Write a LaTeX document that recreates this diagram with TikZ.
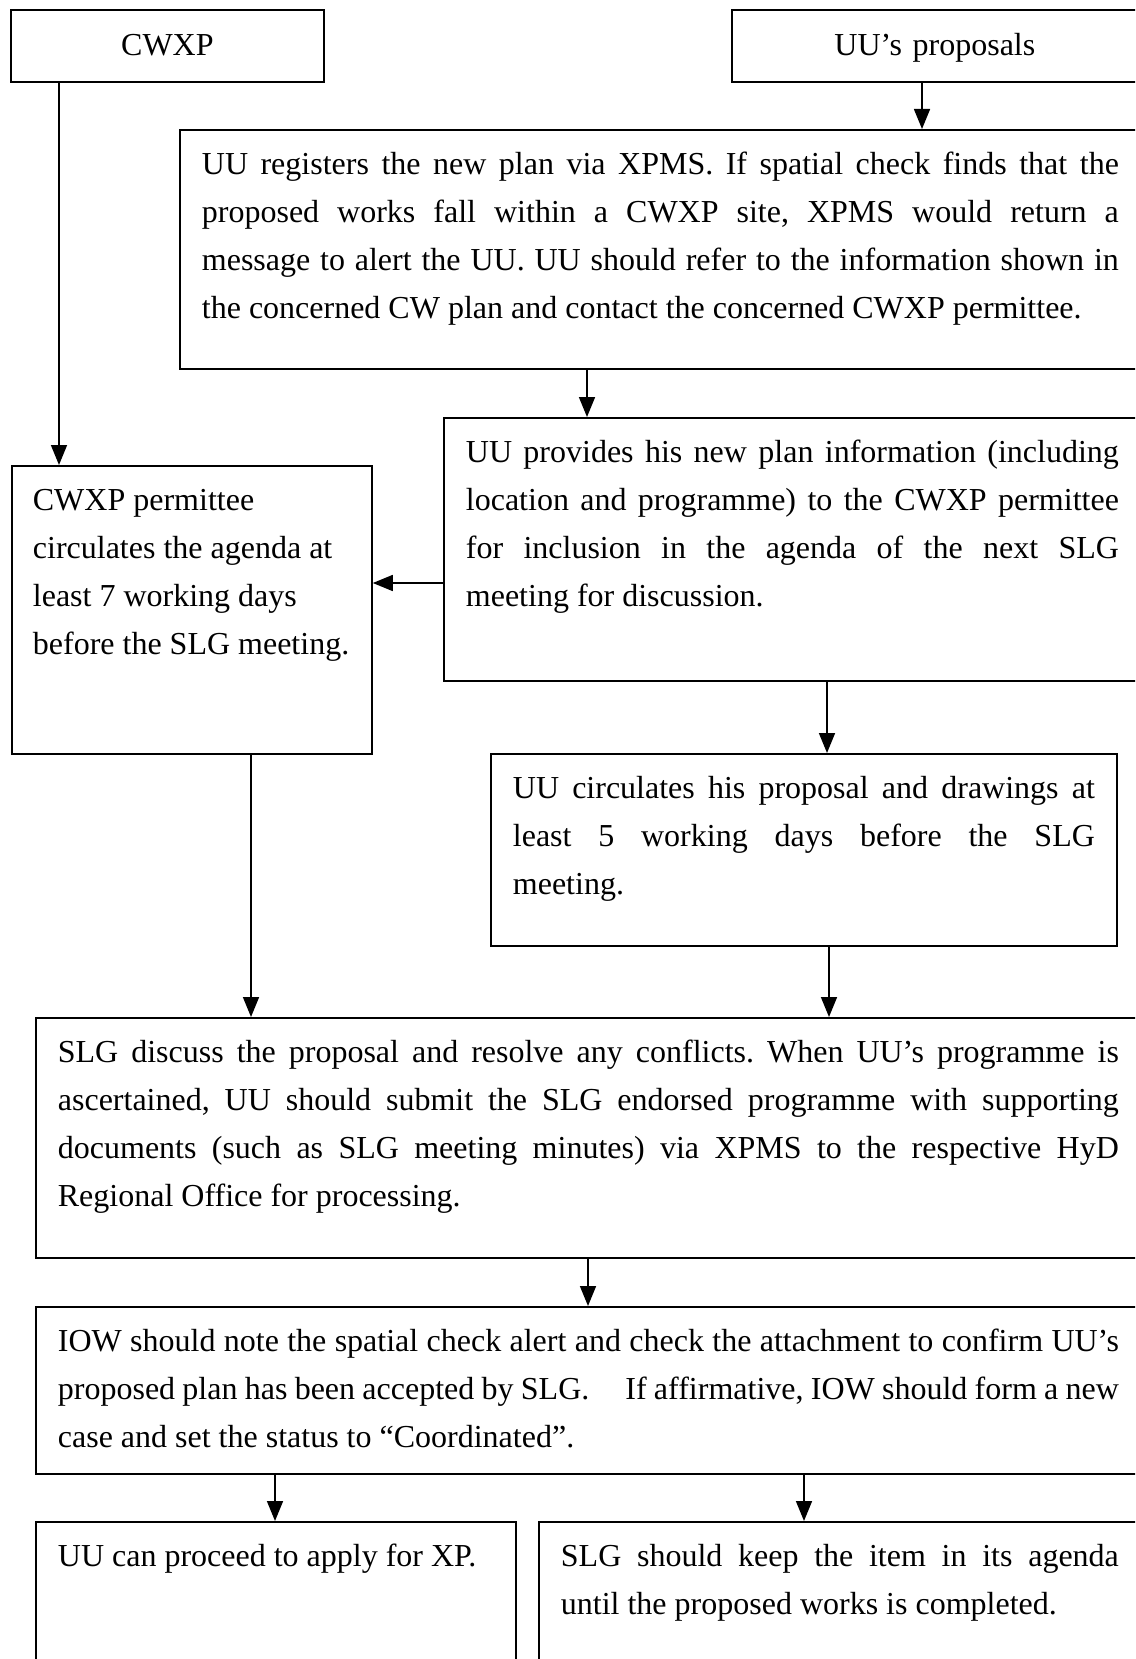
\documentclass[tikz,border=0pt]{standalone}
\usepackage{fontspec}
\setmainfont{Liberation Serif}
\usetikzlibrary{arrows.meta}

\tikzset{
  flowbox/.style={draw, line width=1.8pt, anchor=north west, inner xsep=22pt,
    inner ysep=0pt, text height=45pt, font=\fontsize{32}{47.8}\selectfont\frenchspacing},
  headbox/.style={flowbox, align=center, text height=46pt, text depth=26pt},
  arr/.style={-{Triangle[length=20pt,width=16pt]}, line width=1.6pt},
}

\begin{document}
\begin{tikzpicture}[x=1pt,y=-1pt]
\useasboundingbox (0,0) rectangle (1135,1659);
\clip (0,0) rectangle (1135,1659);
% top row
\node[headbox, text width=269pt] (cwxp) at (10,9) {CWXP};
\node[headbox, text width=362pt] (proposal) at (731,9) {UU’s proposals};
% registration and consultation
\node[flowbox, align=justify, text width=917pt, text depth=194pt] (register) at (179,129)
  {UU registers the new plan via XPMS. If spatial check finds that the\linebreak
   proposed works fall within a CWXP site, XPMS would return a\linebreak
   message to alert the UU. UU should refer to the information shown in\linebreak
   the concerned CW plan and contact the concerned CWXP permittee.};
\node[flowbox, align=flush left, inner xsep=21pt, text width=318pt, text depth=243pt] (permit) at (11,465)
  {CWXP permittee\\ circulates the agenda at\\ least 7 working days\\ before the SLG meeting.};
\node[flowbox, align=justify, text width=653pt, text depth=218pt] (inform) at (443,417)
  {UU provides his new plan information (including\linebreak
   location and programme) to the CWXP permittee\linebreak
   for inclusion in the agenda of the next SLG\linebreak
   meeting for discussion.};
\node[flowbox, align=justify, text width=582pt, text depth=147pt] (circulate) at (490,753)
  {UU circulates his proposal and drawings at\linebreak
   least 5 working days before the SLG\linebreak
   meeting.};
% SLG meeting
\node[flowbox, align=justify, text width=1061pt, text depth=195pt] (discuss) at (35,1017)
  {SLG discuss the proposal and resolve any conflicts. When UU’s programme is\linebreak
   ascertained, UU should submit the SLG endorsed programme with supporting\linebreak
   documents (such as SLG meeting minutes) via XPMS to the respective HyD\linebreak
   Regional Office for processing.};
\node[flowbox, align=justify, text width=1061pt, text depth=122pt] (confirm) at (35,1306)
  {IOW should note the spatial check alert and check the attachment to confirm UU’s\linebreak
   proposed plan has been accepted by SLG.\hspace{0.9em} If affirmative, IOW should form a new\linebreak
   case and set the status to “Coordinated”.};
% outcomes
\node[flowbox, align=flush left, text width=436pt, text depth=200pt] (apply) at (35,1521)
  {UU can proceed to apply for XP.};
\node[flowbox, align=justify, text width=558pt, text depth=200pt] (keep) at (538,1521)
  {SLG should keep the item in its agenda\linebreak
   until the proposed works is completed.};
% connectors
\draw[arr] ([xshift=49pt]cwxp.south west) -- ([xshift=49pt]cwxp.south west |- permit.north);
\draw[arr] ([xshift=191pt]proposal.south west) -- ([xshift=191pt]proposal.south west |- register.north);
\draw[arr] ([xshift=408pt]register.south west) -- ([xshift=408pt]register.south west |- inform.north);
\draw[arr] ([yshift=-166pt]inform.north west) -- ([yshift=-166pt]inform.north west -| permit.east);
\draw[arr] ([xshift=384pt]inform.south west) -- ([xshift=384pt]inform.south west |- circulate.north);
\draw[arr] ([xshift=240pt]permit.south west) -- ([xshift=240pt]permit.south west |- discuss.north);
\draw[arr] ([xshift=339pt]circulate.south west) -- ([xshift=339pt]circulate.south west |- discuss.north);
\draw[arr] ([xshift=553pt]discuss.south west) -- ([xshift=553pt]discuss.south west |- confirm.north);
\draw[arr] ([xshift=240pt]confirm.south west) -- ([xshift=240pt]confirm.south west |- apply.north);
\draw[arr] ([xshift=769pt]confirm.south west) -- ([xshift=769pt]confirm.south west |- keep.north);
\end{tikzpicture}
\end{document}
